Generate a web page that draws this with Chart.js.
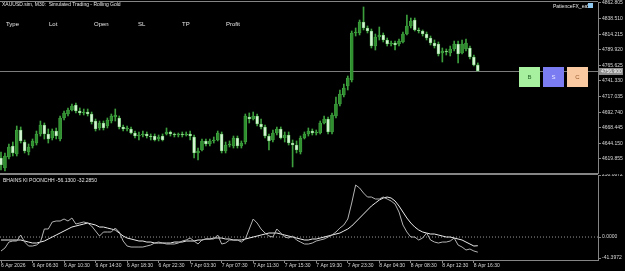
<!DOCTYPE html>
<html>
<head>
<meta charset="utf-8">
<script src="https://cdn.jsdelivr.net/npm/chart.js@4.4.1/dist/chart.umd.min.js"></script>
<style>
  html, body { margin: 0; padding: 0; background: #000; }
  #wrap { position: relative; width: 625px; height: 271px; overflow: hidden; background: #000;
          font-family: "Liberation Sans", Arial, sans-serif; }
  #mainBox { position: absolute; left: 0; top: 0; width: 625px; height: 174px; }
  #indBox { position: absolute; left: 0; top: 174px; width: 625px; height: 97px; }
  .txt { position: absolute; color: #e6e6e6; white-space: nowrap; line-height: 1; }
  .btn { position: absolute; top: 67px; width: 21px; height: 20px; line-height: 20px;
         text-align: center; font-size: 6px; }
</style>
</head>
<body>
<div id="wrap">
  <div id="mainBox"><canvas id="mainChart"></canvas></div>
  <div id="indBox"><canvas id="indChart"></canvas></div>

  <div class="txt" style="left:2px;top:2px;font-size:5px;">XAUUSD.sim, M30:&nbsp; Simulated Trading - Rolling Gold</div>
  <div class="txt" style="left:6px;top:21px;font-size:6px;">Type</div>
  <div class="txt" style="left:49px;top:21px;font-size:6px;">Lot</div>
  <div class="txt" style="left:94px;top:21px;font-size:6px;">Open</div>
  <div class="txt" style="left:138px;top:21px;font-size:6px;">SL</div>
  <div class="txt" style="left:182px;top:21px;font-size:6px;">TP</div>
  <div class="txt" style="left:226px;top:21px;font-size:6px;">Profit</div>
  <div class="txt" style="left:553px;top:4px;font-size:5px;">PatienceFX_ea5</div>
  <div style="position:absolute;left:588px;top:3px;width:5px;height:5px;background:#8fc8f0;"></div>

  <div class="btn" style="left:519px;background:#a6f0a0;color:#2a6a2a;">B</div>
  <div class="btn" style="left:543px;background:#7b7bf2;color:#e8e8ff;">S</div>
  <div class="btn" style="left:567px;background:#f9c9a2;color:#9a5a2a;">C</div>

  <div class="txt" style="left:3px;top:178px;font-size:5px;">BHAINS KI POONCHH -56.1300 -32.2850</div>
</div>

<script>
// XAUUSD M30 candles, bar 0 = 6 Apr 02:30
const opens = [
  4621.4, 4605.8, 4622.9, 4640.1, 4627.6, 4665.0, 4646.3, 4630.7, 4640.1, 4644.7,
  4658.8, 4672.8, 4658.8, 4652.5, 4663.4, 4651.0, 4683.7, 4689.9, 4696.1, 4703.9,
  4694.6, 4691.5, 4693.0, 4689.9, 4679.0, 4668.1, 4675.9, 4671.2, 4679.0, 4685.2,
  4683.7, 4669.7, 4666.6, 4666.6, 4660.3, 4655.6, 4657.2, 4658.8, 4655.6, 4655.6,
  4651.0, 4655.6, 4658.8, 4661.9, 4658.8, 4657.2, 4658.8, 4657.2, 4658.8, 4654.1,
  4629.2, 4633.9, 4647.9, 4643.2, 4647.9, 4649.4, 4658.8, 4632.3, 4641.6, 4640.1,
  4652.5, 4640.1, 4646.3, 4685.2, 4682.1, 4686.8, 4674.3, 4669.7, 4655.6, 4649.4,
  4660.3, 4666.6, 4652.5, 4657.2, 4644.7, 4641.6, 4630.7, 4652.5, 4658.8, 4663.4,
  4660.3, 4660.3, 4675.9, 4682.1, 4661.9, 4686.8, 4705.5, 4719.5, 4733.5, 4742.9,
  4816.1, 4816.1, 4833.2, 4823.9, 4819.2, 4795.8, 4809.9, 4813.0, 4805.2, 4799.0,
  4800.5, 4799.0, 4802.1, 4814.5, 4827.0, 4836.3, 4820.8, 4819.2, 4814.5, 4808.3,
  4800.5, 4799.0, 4784.9, 4788.1, 4784.9, 4791.2, 4799.0, 4784.9, 4791.2, 4792.7,
  4778.7, 4766.3
];
const highs = [
  4630.7, 4629.2, 4643.2, 4646.3, 4671.2, 4669.7, 4649.4, 4643.2, 4651.0, 4663.4,
  4679.0, 4675.9, 4666.6, 4666.6, 4668.1, 4686.8, 4694.6, 4699.3, 4705.5, 4707.1,
  4699.3, 4697.7, 4697.7, 4693.0, 4682.1, 4679.0, 4679.0, 4683.7, 4689.9, 4697.7,
  4686.8, 4672.8, 4671.2, 4669.7, 4663.4, 4661.9, 4663.4, 4661.9, 4658.8, 4658.8,
  4657.2, 4658.8, 4668.1, 4663.4, 4660.3, 4660.3, 4661.9, 4661.9, 4663.4, 4657.2,
  4636.9, 4651.0, 4651.0, 4651.0, 4654.1, 4663.4, 4661.9, 4646.3, 4647.9, 4655.6,
  4655.6, 4647.9, 4689.9, 4691.5, 4693.0, 4689.9, 4682.1, 4672.8, 4658.8, 4665.0,
  4669.7, 4669.7, 4661.9, 4661.9, 4649.4, 4647.9, 4655.6, 4661.9, 4668.1, 4666.6,
  4665.0, 4679.0, 4686.8, 4685.2, 4691.5, 4716.4, 4727.3, 4736.6, 4749.1, 4819.2,
  4823.9, 4836.3, 4856.6, 4827.0, 4822.3, 4814.5, 4825.4, 4816.1, 4808.3, 4803.6,
  4803.6, 4806.7, 4817.6, 4844.1, 4839.4, 4839.4, 4823.9, 4820.8, 4817.6, 4811.4,
  4805.2, 4802.1, 4792.7, 4791.2, 4795.8, 4803.6, 4803.6, 4805.2, 4806.7, 4795.8,
  4781.8, 4769.4
];
const lows = [
  4602.7, 4601.1, 4619.8, 4624.5, 4624.5, 4644.7, 4629.2, 4626.1, 4636.9, 4641.6,
  4655.6, 4651.0, 4644.7, 4649.4, 4651.0, 4647.9, 4680.6, 4686.8, 4694.6, 4691.5,
  4688.4, 4688.4, 4686.8, 4674.3, 4663.4, 4665.0, 4665.0, 4668.1, 4675.9, 4679.0,
  4666.6, 4663.4, 4663.4, 4658.8, 4652.5, 4649.4, 4654.1, 4652.5, 4649.4, 4647.9,
  4647.9, 4647.9, 4657.2, 4655.6, 4654.1, 4654.1, 4654.1, 4655.6, 4649.4, 4621.4,
  4618.3, 4632.3, 4640.1, 4640.1, 4644.7, 4647.9, 4629.2, 4629.2, 4638.5, 4636.9,
  4636.9, 4636.9, 4643.2, 4675.9, 4680.6, 4671.2, 4666.6, 4652.5, 4633.9, 4646.3,
  4657.2, 4651.0, 4646.3, 4641.6, 4607.4, 4629.2, 4627.6, 4651.0, 4655.6, 4657.2,
  4657.2, 4658.8, 4674.3, 4658.8, 4658.8, 4683.7, 4702.4, 4716.4, 4727.3, 4739.8,
  4811.4, 4813.0, 4820.8, 4816.1, 4792.7, 4789.6, 4805.2, 4802.1, 4795.8, 4795.8,
  4789.6, 4795.8, 4800.5, 4813.0, 4823.9, 4819.2, 4816.1, 4811.4, 4805.2, 4797.4,
  4792.7, 4780.3, 4770.9, 4781.8, 4780.3, 4788.1, 4769.4, 4783.4, 4788.1, 4775.6,
  4764.7, 4756.9
];
const closes = [
  4610.5, 4624.5, 4638.5, 4629.2, 4665.0, 4647.9, 4632.3, 4638.5, 4647.9, 4658.8,
  4672.8, 4658.8, 4651.0, 4663.4, 4655.6, 4683.7, 4691.5, 4696.1, 4702.4, 4694.6,
  4691.5, 4693.0, 4689.9, 4677.5, 4666.6, 4675.9, 4668.1, 4680.6, 4686.8, 4688.4,
  4669.7, 4666.6, 4668.1, 4660.3, 4655.6, 4657.2, 4658.8, 4655.6, 4654.1, 4649.4,
  4654.1, 4649.4, 4661.9, 4658.8, 4657.2, 4658.8, 4657.2, 4658.8, 4655.6, 4629.2,
  4632.3, 4647.9, 4643.2, 4647.9, 4649.4, 4660.3, 4632.3, 4641.6, 4643.2, 4652.5,
  4640.1, 4644.7, 4686.8, 4682.1, 4686.8, 4674.3, 4669.7, 4655.6, 4647.9, 4660.3,
  4666.6, 4652.5, 4657.2, 4644.7, 4641.6, 4633.9, 4652.5, 4658.8, 4663.4, 4660.3,
  4661.9, 4675.9, 4682.1, 4661.9, 4688.4, 4705.5, 4721.1, 4730.4, 4746.0, 4816.1,
  4817.6, 4833.2, 4823.9, 4819.2, 4795.8, 4809.9, 4813.0, 4805.2, 4799.0, 4800.5,
  4797.4, 4803.6, 4814.5, 4827.0, 4834.8, 4820.8, 4819.2, 4814.5, 4808.3, 4800.5,
  4795.8, 4783.4, 4788.1, 4786.5, 4791.2, 4799.0, 4783.4, 4799.0, 4800.5, 4778.7,
  4766.3, 4756.9
];

// BHAINS KI POONCHH indicator, two buffers
const fastLine = [
  -51.9, -40.8, -18.6, -14.8, -14.8, 7.4, -18.6, -33.4, -33.4, -29.7,
  -18.6, 29.7, 29.7, 55.7, 59.4, 59.4, 66.8, 59.4, 70.5, 48.2,
  51.9, 55.7, 51.9, 40.8, 22.3, 3.7, 18.6, 18.6, 18.6, 33.4,
  18.6, -14.8, -33.4, -37.1, -37.1, -37.1, -37.1, -33.4, -29.7, -22.3,
  -18.6, -22.3, -26.0, -26.0, -26.0, -22.3, -14.8, -11.1, -3.7, -14.8,
  -26.0, -11.1, -7.4, -7.4, -7.4, 7.4, -26.0, -22.3, -11.1, -11.1,
  -11.1, -18.6, -7.4, 29.7, 66.8, 51.9, 29.7, 14.8, 3.7, 0,
  29.7, 14.8, 0, -3.7, 3.7, -11.1, -18.6, -26.0, -26.0, -22.3,
  -14.8, -11.1, -7.4, 0, 7.4, 18.6, 33.4, 44.5, 66.8, 126.1,
  192.9, 181.8, 163.2, 148.4, 148.4, 141.0, 141.0, 148.4, 141.0, 133.6,
  122.4, 92.8, 44.5, 18.6, 0, 0, -11.1, -3.7, 14.8, -11.1,
  -18.6, -22.3, -18.6, -18.6, -14.8, -3.7, -29.7, -37.1, -48.2, -44.5,
  -51.9, -56.13
];
const slowLine = [
  -11.1, -11.1, -11.1, -11.1, -11.1, -11.1, -14.8, -18.6, -22.3, -22.3,
  -18.6, -14.8, -7.4, 0, 7.4, 14.8, 22.3, 29.7, 37.1, 40.8,
  44.5, 48.2, 51.9, 48.2, 44.5, 37.1, 37.1, 33.4, 29.7, 26.0,
  14.8, 3.7, -3.7, -7.4, -11.1, -14.8, -14.8, -18.6, -18.6, -22.3,
  -22.3, -22.3, -22.3, -22.3, -18.6, -18.6, -18.6, -14.8, -14.8, -14.8,
  -11.1, -11.1, -7.4, -7.4, -3.7, -3.7, -3.7, -7.4, -7.4, -11.1,
  -11.1, -11.1, -7.4, -3.7, 0, 3.7, 7.4, 11.1, 14.8, 14.8,
  14.8, 11.1, 7.4, 3.7, 0, -3.7, -7.4, -11.1, -11.1, -7.4,
  -7.4, -3.7, 0, 3.7, 7.4, 11.1, 14.8, 22.3, 29.7, 40.8,
  55.7, 70.5, 85.3, 100.2, 115.0, 126.1, 137.3, 144.7, 148.4, 144.7,
  133.6, 115.0, 92.8, 70.5, 51.9, 37.1, 26.0, 18.6, 14.8, 11.1,
  11.1, 7.4, 3.7, 0, 0, -3.7, -7.4, -11.1, -18.6, -26.0,
  -33.4, -32.29
];
const indicatorLevels = [0];

// axis labels
const timeLabels = [
  "6 Apr 2026", "6 Apr 06:30", "6 Apr 10:30", "6 Apr 14:30", "6 Apr 18:30", "6 Apr 22:30",
  "7 Apr 03:30", "7 Apr 07:30", "7 Apr 11:30", "7 Apr 15:30", "7 Apr 19:30", "7 Apr 23:30",
  "8 Apr 04:30", "8 Apr 08:30", "8 Apr 12:30", "8 Apr 16:30"
];
const barsPerLabel = 8;
const priceTicks = [4862.805, 4838.510, 4814.215, 4789.920, 4765.625, 4741.330,
                    4717.035, 4692.740, 4668.445, 4644.150, 4619.855];
const indicatorTicks = [230.0872, 0, -78];
const indicatorTickLabels = ["230.0872", "0.0000", "-41.3972"];

const FONT = '"Liberation Sans", Arial, sans-serif';
const AXIS = "#858585";
const LABEL = "#d8d8d8";
const WICK = "#3c9e3c";
const EDGE = "#4aac4a";
const BULL = "#2f8f2f";
const BEAR = "#d2f2d2";
const X_MIN = -0.254, X_MAX = 151.5;
const AXIS_W = 27;

const lastClose = closes[closes.length - 1];

const mainDecor = {
  id: "mainDecor",
  beforeDatasetsDraw(chart) {
    const { ctx, chartArea, scales } = chart;
    ctx.save();
    ctx.fillStyle = AXIS;
    ctx.fillRect(0, chartArea.top - 1, chartArea.right, 1);
    ctx.fillRect(0, chartArea.bottom, chartArea.right, 1);
    const py = Math.round(scales.y.getPixelForValue(lastClose));
    ctx.fillStyle = "#7c7c7c";
    ctx.fillRect(0, py, chartArea.right, 1);
    ctx.restore();
  },
  afterDraw(chart) {
    const { ctx, chartArea, scales } = chart;
    const py = Math.round(scales.y.getPixelForValue(lastClose));
    ctx.save();
    ctx.fillStyle = "#8c8c8c";
    ctx.fillRect(chartArea.right + 1, py - 3, 24, 7);
    ctx.fillStyle = "#ffffff";
    ctx.font = "5px " + FONT;
    ctx.textBaseline = "middle";
    ctx.fillText(lastClose.toFixed(3), chartArea.right + 3, py + 0.5);
    ctx.restore();
  }
};

const indDecor = {
  id: "indDecor",
  beforeDatasetsDraw(chart) {
    const { ctx, chartArea } = chart;
    ctx.save();
    ctx.fillStyle = AXIS;
    ctx.fillRect(0, chartArea.top - 1, chartArea.right, 1);
    ctx.restore();
  }
};

function fixWidth(scale) {
  scale.width = AXIS_W;
  scale.paddingTop = 0;
  scale.paddingBottom = 0;
}

new Chart(document.getElementById("mainChart"), {
  type: "bar",
  data: {
    datasets: [
      {
        label: "body",
        data: opens.map((o, i) => ({ x: i, y: [o, closes[i]] })),
        barThickness: 3,
        minBarLength: 1,
        grouped: false,
        backgroundColor: (c) => (closes[c.dataIndex] >= opens[c.dataIndex] ? BULL : BEAR),
        borderColor: EDGE,
        borderWidth: 0.6,
        borderSkipped: false
      },
      {
        label: "wick",
        data: lows.map((l, i) => ({ x: i, y: [l, highs[i]] })),
        barThickness: 1,
        grouped: false,
        backgroundColor: WICK
      }
    ]
  },
  options: {
    responsive: true,
    maintainAspectRatio: false,
    animation: false,
    layout: { padding: { top: 2, bottom: 1, left: 0, right: 0 } },
    plugins: { legend: { display: false }, tooltip: { enabled: false } },
    scales: {
      x: { type: "linear", min: X_MIN, max: X_MAX, offset: false, display: false },
      y: {
        position: "right",
        min: 4598.0,
        max: 4864.36,
        afterBuildTicks: (s) => { s.ticks = priceTicks.map((v) => ({ value: v })); },
        afterFit: fixWidth,
        ticks: { color: LABEL, font: { size: 5, family: FONT }, padding: 1,
                 callback: (v) => v.toFixed(3) },
        grid: { drawOnChartArea: false, color: AXIS, tickLength: 3 },
        border: { color: AXIS }
      }
    }
  },
  plugins: [mainDecor]
});

new Chart(document.getElementById("indChart"), {
  type: "line",
  data: {
    datasets: [
      { data: fastLine.map((v, i) => ({ x: i, y: v })), borderColor: "#b4b4b4",
        borderWidth: 1, pointRadius: 0, tension: 0 },
      { data: slowLine.map((v, i) => ({ x: i, y: v })), borderColor: "#ececec",
        borderWidth: 1, pointRadius: 0, tension: 0 },
      { data: [{ x: X_MIN, y: indicatorLevels[0] }, { x: X_MAX, y: indicatorLevels[0] }],
        borderColor: "#9a9a9a", borderDash: [1, 2], borderWidth: 1, pointRadius: 0 }
    ]
  },
  options: {
    responsive: true,
    maintainAspectRatio: false,
    animation: false,
    layout: { padding: { top: 1, bottom: 0, left: 0, right: 0 } },
    plugins: { legend: { display: false }, tooltip: { enabled: false } },
    scales: {
      x: {
        type: "linear", min: X_MIN, max: X_MAX, offset: false, position: "bottom",
        afterBuildTicks: (s) => { s.ticks = timeLabels.map((t, j) => ({ value: j * barsPerLabel })); },
        afterFit: (s) => { s.height = 11; s.paddingLeft = 0; s.paddingRight = 0; },
        ticks: { color: LABEL, font: { size: 5, family: FONT }, padding: 0, align: "start",
                 autoSkip: false, maxRotation: 0, callback: (v, j) => timeLabels[j] },
        grid: { drawOnChartArea: false, color: AXIS, tickLength: 3 },
        border: { color: AXIS }
      },
      y: {
        position: "right",
        min: -85.26,
        max: 230.0872,
        afterBuildTicks: (s) => { s.ticks = indicatorTicks.map((v) => ({ value: v })); },
        afterFit: fixWidth,
        ticks: { color: LABEL, font: { size: 5, family: FONT }, padding: 1,
                 callback: (v, j) => indicatorTickLabels[j] },
        grid: { drawOnChartArea: false, color: AXIS, tickLength: 3 },
        border: { color: AXIS }
      }
    }
  },
  plugins: [indDecor]
});
</script>
</body>
</html>
